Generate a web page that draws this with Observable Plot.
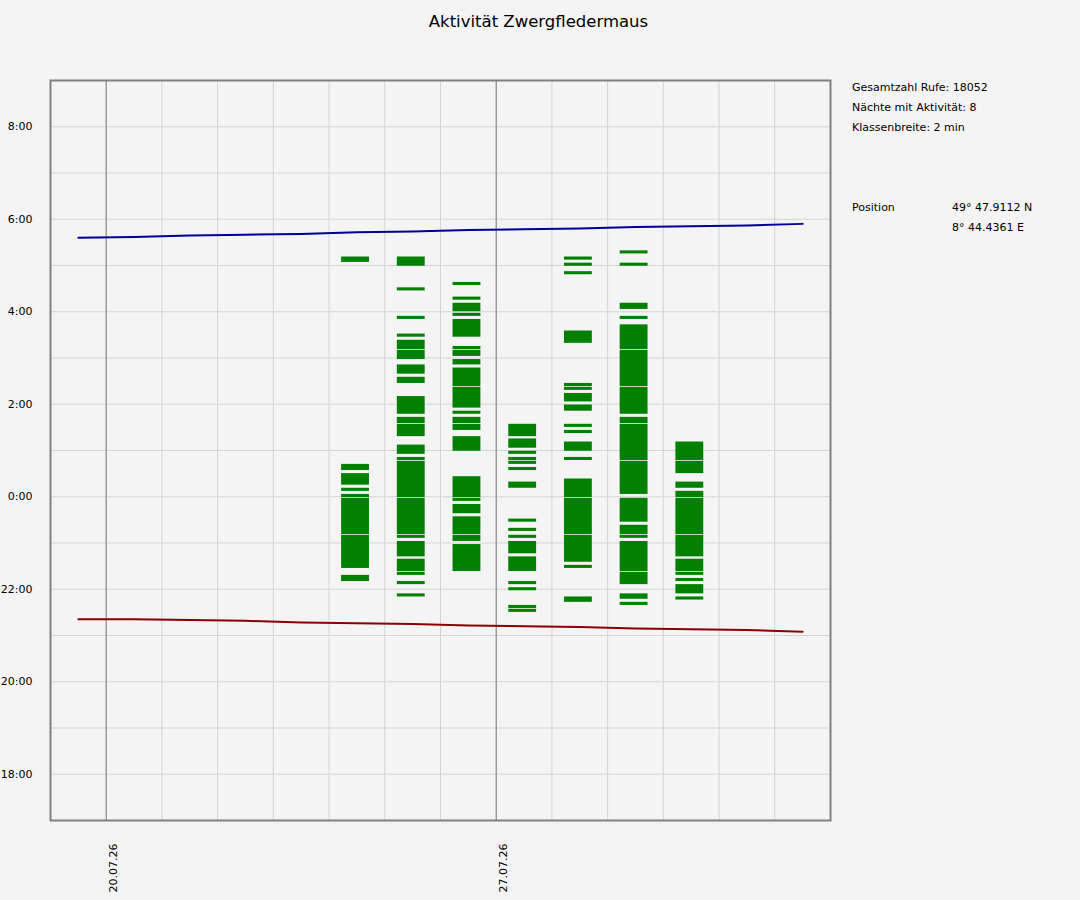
<!DOCTYPE html>
<html>
<head>
<meta charset="utf-8">
<script src="https://cdn.jsdelivr.net/npm/d3@7"></script>
<script src="https://cdn.jsdelivr.net/npm/@observablehq/plot@0.6"></script>
<style>
html, body { margin: 0; padding: 0; background: #f4f4f4; }
#wrap { position: relative; width: 1080px; height: 900px; font-family: "DejaVu Sans", sans-serif; color: #000; overflow: hidden; background: #f4f4f4; }
#chart { position: absolute; left: 0; top: 0; }
#title { position: absolute; left: 0; top: 12px; width: 1077px; text-align: center; font-size: 16.5px; line-height: 20px; }
.info { position: absolute; font-size: 11px; line-height: 20px; white-space: nowrap; }
</style>
</head>
<body>
<div id="wrap">
  <div id="chart"></div>
  <div id="title">Aktivität Zwergfledermaus</div>
  <div class="info" style="left:852px; top:78px;">Gesamtzahl Rufe: 18052<br>Nächte mit Aktivität: 8<br>Klassenbreite: 2 min</div>
  <div class="info" style="left:852px; top:198px;">Position</div>
  <div class="info" style="left:952px; top:198px;">49° 47.9112 N<br>8° 44.4361 E</div>
</div>
<script>
// ---- data ----
const xDomain = ["2026-07-19", "2026-08-02"];
const xTickDates = ["2026-07-20", "2026-07-27"];
const yTicks = [-6, -4, -2, 0, 2, 4, 6, 8];

const sunDays = ["2026-07-19","2026-07-20","2026-07-21","2026-07-22","2026-07-23","2026-07-24","2026-07-25",
                 "2026-07-26","2026-07-27","2026-07-28","2026-07-29","2026-07-30","2026-07-31","2026-08-01"];
const sunrise = ["05:36","05:37","05:39","05:40","05:41","05:43","05:44","05:46","05:47","05:48","05:50","05:51","05:52","05:54"];
const sunset  = ["21:21","21:21","21:20","21:19","21:17","21:16","21:15","21:13","21:12","21:11","21:09","21:08","21:07","21:05"];

const nights = ["2026-07-24","2026-07-25","2026-07-26","2026-07-27","2026-07-28","2026-07-29","2026-07-30"];
const act0724 = ["22:10-22:18","22:27-23:10","23:11-23:58","23:59-00:03","00:07-00:11","00:15-00:30","00:34-00:42","05:04-05:11"];
const act0725 = ["21:50-21:54","22:06-22:10","22:18-22:22","22:23-22:39","22:42-23:02","23:06-23:10","23:11-23:58","23:59-00:46",
                 "00:47-00:51","00:55-01:07","01:18-01:34","01:35-01:43","01:47-02:10","02:27-02:35","02:39-02:51","02:58-03:10",
                 "03:11-03:23","03:27-03:31","03:50-03:54","04:27-04:31","04:59-05:11"];
const act0726 = ["22:23-22:58","23:02-23:10","23:11-23:34","23:38-23:50","23:54-23:58","23:59-00:26","00:59-01:18","01:26-01:34",
                 "01:35-01:43","01:47-01:51","01:55-02:22","02:23-02:47","02:51-02:58","03:02-03:10","03:11-03:15","03:27-03:50",
                 "03:54-03:58","04:00-04:11","04:15-04:19","04:34-04:38"];
const act0727 = ["21:30-21:34","21:35-21:39","21:58-22:02","22:06-22:10","22:23-22:42","22:46-23:02","23:06-23:10","23:15-23:19",
                 "23:27-23:31","00:11-00:19","00:34-00:38","00:42-00:46","00:47-00:51","00:55-00:59","01:03-01:15","01:18-01:34"];
const act0728 = ["21:43-21:50","22:27-22:31","22:35-23:10","23:11-23:58","23:59-00:23","00:47-00:51","00:59-01:11","01:22-01:26",
                 "01:30-01:34","01:51-01:59","02:03-02:14","02:18-02:22","02:23-02:27","03:19-03:35","04:48-04:52","04:59-05:03","05:07-05:11"];
const act0729 = ["21:39-21:43","21:47-21:54","22:06-22:22","22:23-23:02","23:06-23:10","23:11-23:23","23:27-23:58","00:03-00:46",
                 "00:47-01:34","01:35-01:43","01:47-02:22","02:23-03:10","03:11-03:43","03:50-03:54","04:03-04:11","04:59-05:03","05:15-05:19"];
const act0730 = ["21:46-21:50","21:54-22:06","22:10-22:14","22:18-22:22","22:23-22:39","22:42-23:10","23:11-23:58","23:59-00:07",
                 "00:11-00:19","00:30-00:46","00:47-01:11"];
const activity = [act0724, act0725, act0726, act0727, act0728, act0729, act0730];

// ---- helpers ----
const DAY = 864e5;
const parseDate = s => new Date(s + "T00:00:00Z");
const toH = s => { const [h, m] = s.split(":").map(Number); let v = h + m / 60; return v >= 12 ? v - 24 : v; };
const fmtDate = d3.utcFormat("%d.%m.%y");
const fmtHour = h => `${h < 0 ? h + 24 : h}:00`;

const segments = [];
nights.forEach((n, i) => {
  activity[i].forEach(s => {
    const [a, b] = s.split("-");
    segments.push({ night: parseDate(n), y1: toH(a), y2: toH(b) });
  });
});
const sunData = sunDays.map((d, i) => ({ day: parseDate(d), rise: toH(sunrise[i]), set: toH(sunset[i]) }));

const x0 = parseDate(xDomain[0]), x1 = parseDate(xDomain[1]);
const dayGrid = d3.utcDay.range(x0, x1);
const weekGrid = xTickDates.map(parseDate);
const hourGrid = d3.range(-7, 10);

const chart = Plot.plot({
  width: 1080,
  height: 900,
  marginLeft: 50,
  marginRight: 250,
  marginTop: 80,
  marginBottom: 80,
  style: { background: "transparent", fontFamily: "'DejaVu Sans', sans-serif", fontSize: "11px", color: "#000" },
  x: { type: "utc", domain: [x0, x1], axis: null },
  y: { domain: [-7, 9], axis: null },
  marks: [
    Plot.ruleY(hourGrid, { stroke: "#d3d3d3", strokeWidth: 1 }),
    Plot.ruleX(dayGrid, { stroke: "#d3d3d3", strokeWidth: 1 }),
    Plot.ruleX(weekGrid, { stroke: "#808080", strokeWidth: 1 }),
    Plot.rect(segments, {
      x1: d => new Date(+d.night + 0.225 * DAY),
      x2: d => new Date(+d.night + 0.725 * DAY),
      y1: "y1", y2: "y2",
      fill: "#008000"
    }),
    Plot.line(sunData, { x: d => new Date(+d.day + 0.5 * DAY), y: "rise", stroke: "#000096", strokeWidth: 2 }),
    Plot.line(sunData, { x: d => new Date(+d.day + 0.5 * DAY), y: "set", stroke: "#8b0000", strokeWidth: 2 }),
    Plot.frame({ stroke: "#808080", strokeWidth: 2 }),
    Plot.axisY({ ticks: yTicks, tickFormat: fmtHour, tickSize: 0, tickPadding: 18, label: null, fontSize: 11 }),
    Plot.text(weekGrid, {
      x: d => d, text: d => fmtDate(d), frameAnchor: "bottom",
      rotate: -90, textAnchor: "end", dy: 23, dx: 11, fontSize: 11, fill: "#000"
    })
  ]
});
document.getElementById("chart").appendChild(chart);
</script>
</body>
</html>
